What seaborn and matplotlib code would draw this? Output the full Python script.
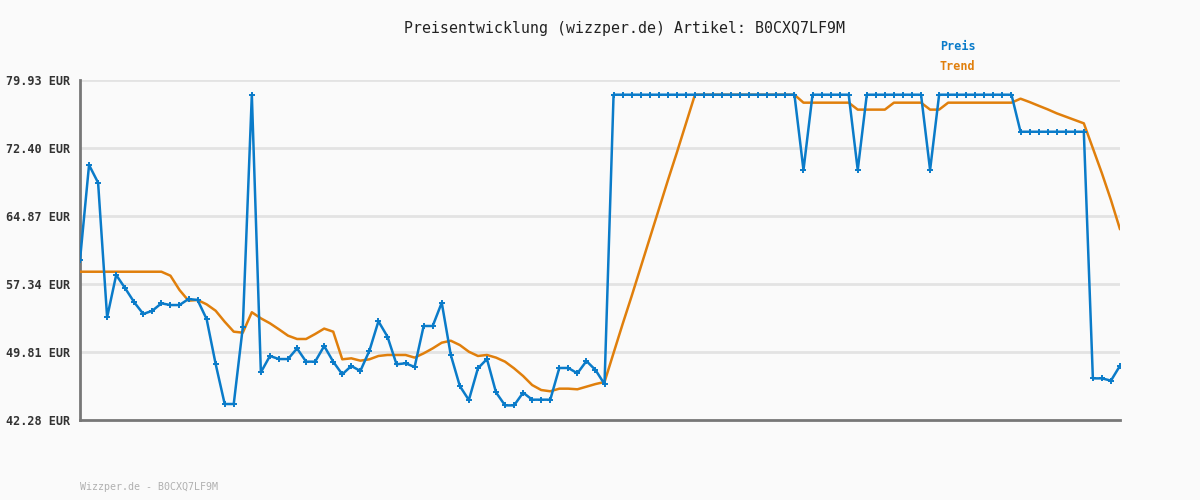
import pandas as pd
import seaborn as sb
import matplotlib.pyplot as plt

# Preis-Datenpunkte
preis = [60.00, 70.52, 68.56, 53.65, 58.34, 56.86, 55.31, 54.02, 54.38, 55.20,
         55.01, 55.01, 55.68, 55.57, 53.46, 48.48, 44.05, 44.05, 52.54, 78.30,
         47.56, 49.37, 49.03, 49.03, 50.21, 48.74, 48.74, 50.47, 48.74, 47.34,
         48.26, 47.71, 49.95, 53.21, 51.51, 48.45, 48.56, 48.15, 52.69, 52.69,
         55.27, 49.48, 46.04, 44.49, 48.00, 49.03, 45.34, 43.90, 43.90, 45.31,
         44.53, 44.53, 44.53, 48.04, 48.04, 47.45, 48.81, 47.82, 46.26] \
    + [78.30] * 21 + [69.96] + [78.30] * 5 + [69.96] + [78.30] * 7 + [69.96] \
    + [78.30] * 9 + [74.20] * 8 + [46.89, 46.89, 46.64, 48.29]

trend = [58.70] * 10 \
    + [58.26, 56.68, 55.49, 55.57, 55.09, 54.38, 53.16, 52.06, 51.95, 54.21,
       53.54, 52.99, 52.32, 51.62, 51.25, 51.25, 51.80, 52.40, 52.06, 49.00,
       49.11, 48.85, 49.00, 49.37, 49.48, 49.48, 49.48, 49.19, 49.66, 50.21,
       50.84, 51.06, 50.58, 49.84, 49.37, 49.48, 49.19, 48.74, 48.00, 47.15,
       46.15, 45.60, 45.46, 45.75, 45.75, 45.68, 45.97, 46.26, 46.49,
       49.70, 52.90, 56.00, 59.20, 62.40, 65.60, 68.80, 71.90, 75.10] \
    + [78.30] * 12 + [77.42] * 6 + [76.65] * 4 + [77.42] * 4 + [76.65] * 2 \
    + [77.42] * 8 \
    + [77.86, 77.49, 77.08, 76.68, 76.24, 75.87, 75.50, 75.13,
       72.37, 69.60, 66.64, 63.40]

y_ticks = [42.28, 49.81, 57.34, 64.87, 72.40, 79.93]
artikel = "B0CXQ7LF9M"

blau = "#0a7bc9"
orange = "#e07f0c"

data = pd.DataFrame({"tag": range(len(preis)), "preis": preis, "trend": trend})

sb.set_style("white")
plt.rcParams['font.family'] = ['DejaVu Sans Mono']

fig = plt.figure(figsize=(12, 5), dpi=100, facecolor="#fafafa")
ax = fig.add_axes([80 / 1200, 80 / 500, 1040 / 1200, 340 / 500])
ax.set_facecolor("#fafafa")

# Linien zeichnen
sb.lineplot(x="tag", y="trend", data=data, ax=ax, color=orange, linewidth=1.8, zorder=3)
sb.lineplot(x="tag", y="preis", data=data, ax=ax, color=blau, linewidth=1.8,
            marker="+", markersize=4, markeredgewidth=1.4, markeredgecolor=blau, zorder=4)

ax.set_xlim(0, len(preis) - 1)
ax.set_ylim(y_ticks[0], y_ticks[-1])
ax.set_yticks(y_ticks)
ax.set_yticklabels([f"{v:.2f} EUR" for v in y_ticks], fontsize=8.5, fontweight="bold", color="#333333")
ax.set_xticks([])
ax.set_xlabel("")
ax.set_ylabel("")
ax.tick_params(axis="y", length=0, pad=7)

# Gitter
for v in y_ticks[1:]:
    ax.axhline(v, color="#e3e3e3", linewidth=2, zorder=1)

for s in ["top", "right"]:
    ax.spines[s].set_visible(False)
for s in ["left", "bottom"]:
    ax.spines[s].set_color("#777777")
    ax.spines[s].set_linewidth(2)

# Texte
fig.text(0.52, 1 - 28 / 500, f"Preisentwicklung (wizzper.de) Artikel: {artikel}",
         ha="center", va="center", fontsize=10.7, color="#222222")
fig.text(940 / 1200, 1 - 46 / 500, "Preis", ha="left", va="center",
         fontsize=8.5, fontweight="bold", color=blau)
fig.text(940 / 1200, 1 - 67 / 500, "Trend", ha="left", va="center",
         fontsize=8.5, fontweight="bold", color=orange)
fig.text(80 / 1200, 1 - 487 / 500, f"Wizzper.de - {artikel}", ha="left", va="center",
         fontsize=7.2, color="#b0b0b0")

fig.savefig("out.png", dpi=100, facecolor=fig.get_facecolor())
